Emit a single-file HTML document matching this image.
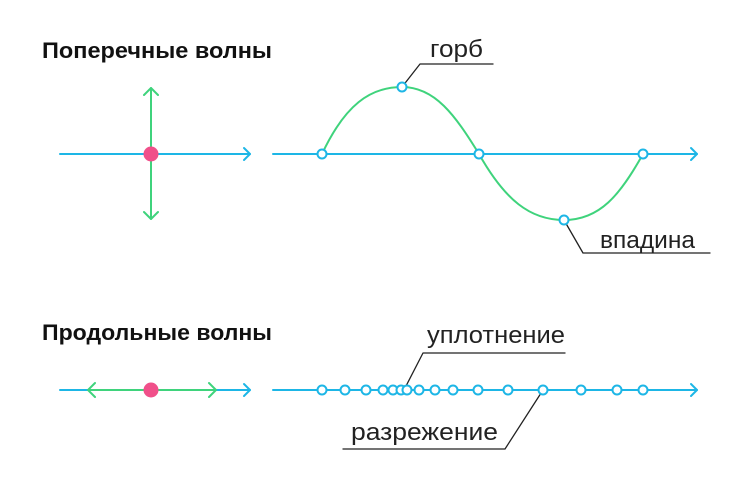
<!DOCTYPE html>
<html><head><meta charset="utf-8"><style>
body{margin:0;background:#fff;}
svg{display:block;}
text{font-family:"Liberation Sans",sans-serif;}
</style></head><body>
<svg width="750" height="477" viewBox="0 0 750 477" xmlns="http://www.w3.org/2000/svg">
<g fill="none" stroke-linecap="round" stroke-linejoin="round">
<line x1="60" y1="154" x2="250" y2="154" stroke="#1db6e6" stroke-width="2"/>
<path d="M244,148 L250,154 L244,160" stroke="#1db6e6" stroke-width="2"/>
<line x1="151" y1="88" x2="151" y2="219" stroke="#3fd37c" stroke-width="2"/>
<path d="M144,95 L151,88 L158,95 M144,212 L151,219 L158,212" stroke="#3fd37c" stroke-width="2"/>
<line x1="273" y1="154" x2="697" y2="154" stroke="#1db6e6" stroke-width="2"/>
<path d="M691,148 L697,154 L691,160" stroke="#1db6e6" stroke-width="2"/>
<path d="M322,154 C345,105 370,87 402,87 C435,87 455,115 479,154 C505,200 530,220 564,220 C600,220 620,195 643,154" stroke="#3fd37c" stroke-width="2"/>
<path d="M402,87 L420,64 L493,64" stroke="#222" stroke-width="1.3"/>
<path d="M564,220 L583,253 L710,253" stroke="#222" stroke-width="1.3"/>
<line x1="60" y1="390" x2="250" y2="390" stroke="#1db6e6" stroke-width="2"/>
<path d="M244,384 L250,390 L244,396" stroke="#1db6e6" stroke-width="2"/>
<line x1="88" y1="390" x2="216" y2="390" stroke="#3fd37c" stroke-width="2"/>
<path d="M95,383 L88,390 L95,397 M209,383 L216,390 L209,397" stroke="#3fd37c" stroke-width="2"/>
<line x1="273" y1="390" x2="697" y2="390" stroke="#1db6e6" stroke-width="2"/>
<path d="M691,384 L697,390 L691,396" stroke="#1db6e6" stroke-width="2"/>
<path d="M405,388 L423,353 L565,353" stroke="#222" stroke-width="1.3"/>
<path d="M543,390 L505,449 L343,449" stroke="#222" stroke-width="1.3"/>
</g>
<circle cx="151" cy="154" r="7.5" fill="#f0508a"/>
<circle cx="151" cy="390" r="7.5" fill="#f0508a"/>
<g fill="#fff" stroke="#1db6e6" stroke-width="2">
<circle cx="322" cy="154" r="4.5"/><circle cx="402" cy="87" r="4.5"/><circle cx="479" cy="154" r="4.5"/><circle cx="564" cy="220" r="4.5"/><circle cx="643" cy="154" r="4.5"/>
<circle cx="322" cy="390" r="4.5"/><circle cx="345" cy="390" r="4.5"/><circle cx="366" cy="390" r="4.5"/><circle cx="383" cy="390" r="4.5"/><circle cx="393" cy="390" r="4.5"/><circle cx="401" cy="390" r="4.5"/><circle cx="407" cy="390" r="4.5"/><circle cx="419" cy="390" r="4.5"/><circle cx="435" cy="390" r="4.5"/><circle cx="453" cy="390" r="4.5"/><circle cx="478" cy="390" r="4.5"/><circle cx="508" cy="390" r="4.5"/><circle cx="543" cy="390" r="4.5"/><circle cx="581" cy="390" r="4.5"/><circle cx="617" cy="390" r="4.5"/><circle cx="643" cy="390" r="4.5"/>
</g>
<text x="42" y="58" font-size="22" font-weight="bold" fill="#111" textLength="230" lengthAdjust="spacingAndGlyphs">Поперечные волны</text>
<text x="42" y="340" font-size="22" font-weight="bold" fill="#111" textLength="230" lengthAdjust="spacingAndGlyphs">Продольные волны</text>
<text x="430" y="57" font-size="24" fill="#222" textLength="53" lengthAdjust="spacingAndGlyphs">горб</text>
<text x="600" y="248" font-size="24" fill="#222" textLength="95" lengthAdjust="spacingAndGlyphs">впадина</text>
<text x="427" y="343" font-size="24" fill="#222" textLength="138" lengthAdjust="spacingAndGlyphs">уплотнение</text>
<text x="351" y="440" font-size="24" fill="#222" textLength="147" lengthAdjust="spacingAndGlyphs">разрежение</text>
</svg>
</body></html>
